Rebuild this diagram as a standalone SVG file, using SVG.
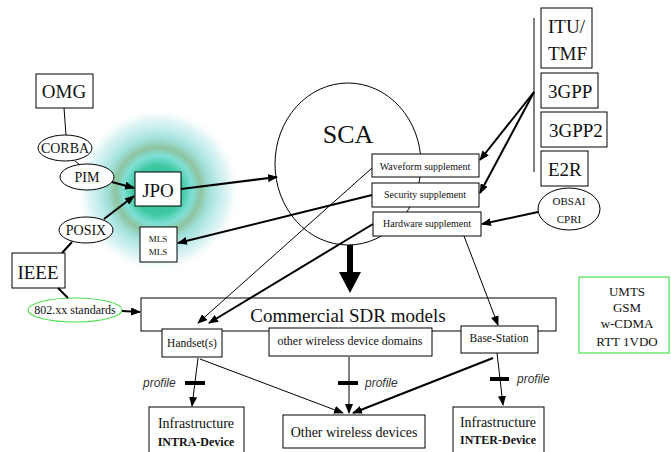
<svg xmlns="http://www.w3.org/2000/svg" width="671" height="452" viewBox="0 0 671 452">
<defs>
<radialGradient id="glow" cx="0.5" cy="0.5" r="0.5">
<stop offset="0" stop-color="#28bb8e"/>
<stop offset="0.3" stop-color="#3fc8a2"/>
<stop offset="0.42" stop-color="#7fe0d6"/>
<stop offset="0.52" stop-color="#8fc4a0"/>
<stop offset="0.62" stop-color="#9fe0d8"/>
<stop offset="0.74" stop-color="#c2ecec"/>
<stop offset="0.87" stop-color="#e4f6f6"/>
<stop offset="1" stop-color="#ffffff" stop-opacity="0"/>
</radialGradient>
<marker id="ah" markerWidth="10" markerHeight="8" refX="9" refY="4" orient="auto" markerUnits="userSpaceOnUse">
<path d="M0,0 L10,4 L0,8 Z" fill="#000"/>
</marker>
</defs>
<style>
.box{fill:#fff;stroke:#000;stroke-width:1}
.ell{fill:#fff;stroke:#000;stroke-width:1}
.t{font-family:"Liberation Serif","Times New Roman",serif;fill:#111;text-anchor:middle}
.tl{font-family:"Liberation Serif","Times New Roman",serif;fill:#111}
.c{stroke:#000;stroke-width:1;fill:none}
.c2{stroke:#000;stroke-width:2;fill:none}
.a{marker-end:url(#ah)}
.bar{stroke:#000;stroke-width:4}
.pf{font-family:"Liberation Sans",Arial,sans-serif;font-style:italic;font-size:12px;fill:#333}
</style>
<rect width="671" height="452" fill="#fff"/>
<circle cx="158" cy="190" r="82" fill="url(#glow)"/>

<g id="sca">
<ellipse cx="348" cy="164" rx="73" ry="81" fill="none" stroke="#000" stroke-width="1"/>
<text class="t" x="348" y="143" font-size="26">SCA</text>
</g>

<g id="omg"><rect class="box" x="36" y="74" width="57" height="34"/><text class="t" x="64" y="98" font-size="19">OMG</text></g>
<g id="corba"><ellipse class="ell" cx="65" cy="148" rx="27" ry="13"/><text class="t" x="65" y="153" font-size="14">CORBA</text></g>
<g id="pim"><ellipse class="ell" cx="87" cy="177" rx="27" ry="13"/><text class="t" x="87" y="182" font-size="14">PIM</text></g>
<g id="jpo"><rect class="box" x="135" y="172" width="46" height="34"/><text class="t" x="158" y="197" font-size="19">JPO</text></g>
<g id="posix"><ellipse class="ell" cx="86" cy="230" rx="27" ry="13"/><text class="t" x="86" y="235" font-size="14">POSIX</text></g>
<g id="ieee"><rect class="box" x="12" y="253" width="53" height="35"/><text class="t" x="38" y="279" font-size="19">IEEE</text></g>
<g id="mls"><rect class="box" x="140" y="227" width="37" height="35"/><text class="t" x="158" y="242" font-size="9">MLS</text><text class="t" x="158" y="255" font-size="9">MLS</text></g>
<g id="std802"><ellipse cx="75" cy="310" rx="47" ry="12" fill="#fff" stroke="#4ee04e" stroke-width="1.2"/><text class="t" x="75" y="314" font-size="12">802.xx standards</text></g>

<g id="waveform"><rect class="box" x="372" y="154" width="107" height="23"/><text class="t" x="425" y="170" font-size="10">Waveform supplement</text></g>
<g id="security"><rect class="box" x="372" y="183" width="107" height="24"/><text class="t" x="425" y="198" font-size="10">Security supplement</text></g>
<g id="hardware"><rect class="box" x="373" y="212" width="108" height="24"/><text class="t" x="427" y="227" font-size="10">Hardware supplement</text></g>

<g id="itu"><rect class="box" x="541" y="8" width="51" height="60"/><text class="tl" x="548" y="33" font-size="19">ITU/</text><text class="tl" x="548" y="60" font-size="19">TMF</text></g>
<g id="gpp3"><rect class="box" x="541" y="73" width="57" height="35"/><text class="tl" x="548" y="98" font-size="19">3GPP</text></g>
<g id="gpp3_2"><rect class="box" x="541" y="112" width="66" height="35"/><text class="tl" x="549" y="137" font-size="19">3GPP2</text></g>
<g id="e2r"><rect class="box" x="541" y="151" width="47" height="35"/><text class="tl" x="548" y="176" font-size="19">E2R</text></g>
<g id="obsai"><ellipse class="ell" cx="569" cy="209" rx="31" ry="21"/><text class="t" x="569" y="205" font-size="11">OBSAI</text><text class="t" x="569" y="223" font-size="11">CPRI</text></g>

<g id="umts"><rect x="579" y="277" width="90" height="76" fill="#fff" stroke="#4ee04e" stroke-width="1.2"/>
<text class="t" x="627" y="296" font-size="13">UMTS</text>
<text class="t" x="627" y="312" font-size="13">GSM</text>
<text class="t" x="627" y="328" font-size="13">w-CDMA</text>
<text class="t" x="627" y="346" font-size="13">RTT 1VDO</text></g>

<g id="sdr"><rect class="box" x="141" y="298" width="415" height="33"/><text class="t" x="348" y="322" font-size="19">Commercial SDR models</text></g>
<g id="handset"><rect class="box" x="162" y="329" width="60" height="28"/><text class="t" x="192" y="347" font-size="11.5">Handset(s)</text></g>
<g id="domains"><rect class="box" x="269" y="328" width="163" height="28"/><text class="t" x="350" y="345" font-size="12">other wireless device domains</text></g>
<g id="base"><rect class="box" x="461" y="326" width="77" height="27"/><text class="t" x="499" y="342" font-size="11.5">Base-Station</text></g>

<g id="intra"><rect class="box" x="149" y="407" width="95" height="55"/><text class="t" x="196" y="428" font-size="14">Infrastructure</text><text class="t" x="196" y="446" font-size="12" font-weight="bold">INTRA-Device</text></g>
<g id="other"><rect class="box" x="283" y="415" width="142" height="33"/><text class="t" x="354" y="437" font-size="14">Other wireless devices</text></g>
<g id="inter"><rect class="box" x="453" y="407" width="91" height="55"/><text class="t" x="498" y="427" font-size="14">Infrastructure</text><text class="t" x="498" y="444" font-size="12" font-weight="bold">INTER-Device</text></g>

<g id="connectors">
<line class="c" x1="64" y1="108" x2="66" y2="135"/>
<line class="c" x1="75" y1="161" x2="80" y2="165"/>
<line class="c2 a" x1="112" y1="182" x2="134" y2="188"/>
<line class="c2 a" x1="104" y1="219" x2="134" y2="196"/>
<line class="c2" x1="62" y1="253" x2="72" y2="242"/>
<line class="c2" x1="58" y1="288" x2="68" y2="298"/>
<line class="c2 a" x1="122" y1="311" x2="140" y2="312"/>
<line class="c2 a" x1="181" y1="189" x2="277" y2="177"/>
<line class="c2 a" x1="372" y1="195" x2="178" y2="243"/>
<line class="c a" x1="372" y1="168" x2="198" y2="323"/>
<line class="c2 a" x1="373" y1="224" x2="209" y2="323"/>
<line class="c a" x1="464" y1="236" x2="498" y2="325"/>
<line class="c" x1="534" y1="18" x2="534" y2="172"/>
<line class="c2 a" x1="534" y1="92" x2="480" y2="160"/>
<line class="c2 a" x1="534" y1="92" x2="480" y2="193"/>
<line class="c2 a" x1="538" y1="212" x2="482" y2="224"/>
<path d="M347,245 H353 V272 H361 L350,293 L339,272 H347 Z" fill="#000"/>
<line class="c a" x1="198" y1="358" x2="192" y2="406"/>
<line class="bar" x1="185" y1="383" x2="205" y2="383"/>
<line class="c a" x1="200" y1="359" x2="343" y2="413"/>
<line class="c a" x1="349" y1="357" x2="349" y2="413"/>
<line class="bar" x1="338" y1="383" x2="358" y2="383"/>
<line class="c2 a" x1="493" y1="358" x2="353" y2="413"/>
<line class="c a" x1="497" y1="353" x2="503" y2="405"/>
<line class="bar" x1="490" y1="379" x2="509" y2="379"/>
<text class="pf" x="143" y="387">profile</text>
<text class="pf" x="365" y="387">profile</text>
<text class="pf" x="517" y="383">profile</text>
</g>
</svg>
